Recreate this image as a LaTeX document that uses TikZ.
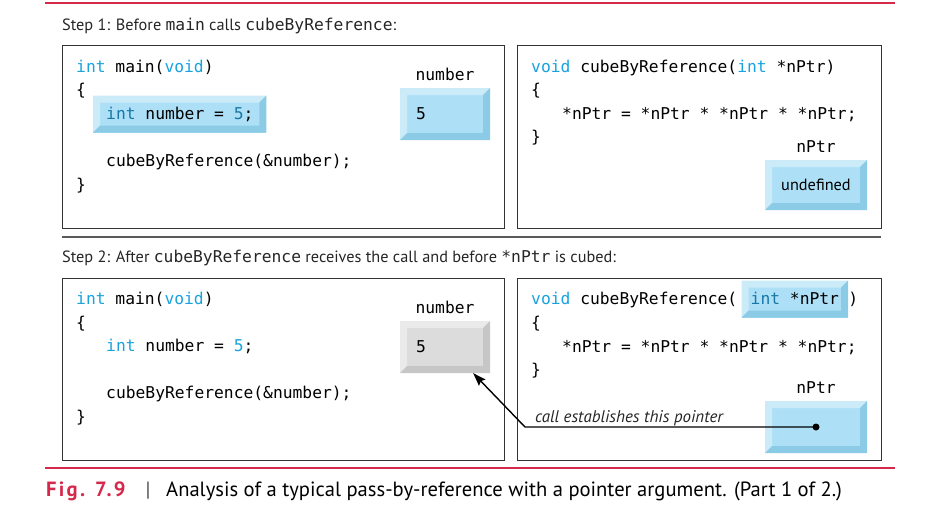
\documentclass[tikz,border=0pt]{standalone}
\usepackage{fontspec}
\setmainfont{PT Sans}
\newfontfamily\codefont{DejaVu Sans Mono}
\usetikzlibrary{positioning,arrows.meta}
\definecolor{figred}{HTML}{D5284A}
\definecolor{kwblue}{HTML}{18A2DE}
\definecolor{kwdark}{HTML}{1777A6}
\definecolor{bxface}{HTML}{ADE0F7}
\definecolor{bxlight}{HTML}{CBEBF9}
\definecolor{bxdark}{HTML}{8BCBE6}
\definecolor{gyface}{HTML}{DCDCDC}
\definecolor{gylight}{HTML}{EAEAEA}
\definecolor{gydark}{HTML}{C6C6C6}
\def\cf{\codefont\fontsize{16.3pt}{20pt}\selectfont}
\def\txtsize{\fontsize{16.3pt}{20pt}\selectfont}
\def\capsize{\fontsize{20.6pt}{24pt}\selectfont}
\def\kw#1{\textcolor{kwblue}{#1}}
\def\kwd#1{\textcolor{kwdark}{#1}}
\def\bv{7pt}
\tikzset{
  bevel/.style n args={3}{fill=#1, path picture={
      \fill[#2] (path picture bounding box.north west) -- (path picture bounding box.north east)
        -- ([xshift=-\bv,yshift=-\bv]path picture bounding box.north east)
        -- ([xshift=\bv,yshift=-\bv]path picture bounding box.north west)
        -- ([xshift=\bv,yshift=\bv]path picture bounding box.south west)
        -- (path picture bounding box.south west) -- cycle;
      \fill[#3] (path picture bounding box.south east) -- (path picture bounding box.north east)
        -- ([xshift=-\bv,yshift=-\bv]path picture bounding box.north east)
        -- ([xshift=-\bv,yshift=\bv]path picture bounding box.south east)
        -- ([xshift=\bv,yshift=\bv]path picture bounding box.south west)
        -- (path picture bounding box.south west) -- cycle;
    }},
  bluebox/.style={bevel={bxface}{bxlight}{bxdark}},
  greybox/.style={bevel={gyface}{gylight}{gydark}},
  frame/.style={draw=black!80, line width=1.3pt, inner sep=0pt, anchor=north west},
  code/.style={font=\cf, anchor=base west, inner sep=0pt},
  hlbox/.style={bluebox, font=\cf, anchor=base west, text height=13pt, text depth=3pt, inner ysep=10.5pt},
  value/.style={font=\cf, minimum width=90pt, minimum height=52pt, text width=58pt, inner xsep=16pt, align=left},
  varlbl/.style={font=\cf, inner sep=0pt},
  steptxt/.style={font=\txtsize, text=black!85, anchor=base west, inner sep=0pt},
  ptr/.style={line width=1.4pt, -{Stealth[length=13pt,width=9pt,inset=2pt]}},
  ptrdot/.style={circle, fill=black, inner sep=0pt, minimum size=7pt}
}

\begin{document}
\begin{tikzpicture}[x=1pt, y=-1pt]
  \useasboundingbox (0,0) rectangle (932,504);

  % rules
  \draw[figred, line width=2pt] (45,3) -- (895,3);
  \draw[black!65, line width=1.5pt] (62,237) -- (881,237);
  \draw[figred, line width=2.2pt] (45,468) -- (895,468);

  % step 1
  \node[steptxt] (stepA) at (62,30) {Step 1: Before {\codefont main} calls {\codefont cubeByReference}:};
  \node[frame, minimum width=442pt, minimum height=183pt] (frameA) at (62,45) {};
  \node[frame, minimum width=364pt, minimum height=183pt] (frameB) at (517,45) {};

  \node[code] (mainA) at (76,72) {\kw{int} main(\kw{void})};
  \node[code] (openA) at (76,95) {\{};
  \node[hlbox, inner xsep=13pt] (declA) at (93,119) {\kwd{int} number = \kwd{5};};
  \node[code] (callA) at (106,166) {cubeByReference(\&number);};
  \node[code] (closeA) at (76,190) {\}};

  \node[value, bluebox] (numA) at (445,114) {5};
  \node[varlbl, above=7pt of numA] (numlblA) {number};

  \node[code] (sigB) at (531,72) {\kw{void} cubeByReference(\kw{int} *nPtr)};
  \node[code] (openB) at (531,95) {\{};
  \node[code] (bodyB) at (562,119) {*nPtr = *nPtr * *nPtr * *nPtr;};
  \node[code] (closeB) at (531,142) {\}};

  \node[bluebox, font=\txtsize, minimum width=102pt, minimum height=50pt] (ptrB) at (816,185) {undefined};
  \node[varlbl, above=7pt of ptrB] (ptrlblB) {nPtr};

  % step 2
  \node[steptxt] (stepB) at (62,262) {Step 2: After {\codefont cubeByReference} receives the call and before {\codefont *nPtr} is cubed:};
  \node[frame, minimum width=442pt, minimum height=182pt] (frameC) at (62,278) {};
  \node[frame, minimum width=364pt, minimum height=182pt] (frameD) at (517,278) {};

  \node[code] (mainC) at (76,304) {\kw{int} main(\kw{void})};
  \node[code] (openC) at (76,328) {\{};
  \node[code] (declC) at (106,351) {\kw{int} number = \kw{5};};
  \node[code] (callC) at (106,398) {cubeByReference(\&number);};
  \node[code] (closeC) at (76,422) {\}};

  \node[value, greybox] (numC) at (445,347) {5};
  \node[varlbl, above=7pt of numC] (numlblC) {number};

  \node[code] (sigD) at (531,304) {\kw{void} cubeByReference(};
  \node[hlbox, inner xsep=9pt, base right=4pt of sigD] (argD) {\kwd{int} *nPtr};
  \node[code, base right=0pt of argD] (parD) {)};
  \node[code] (openD) at (531,328) {\{};
  \node[code] (bodyD) at (562,352) {*nPtr = *nPtr * *nPtr * *nPtr;};
  \node[code] (closeD) at (531,375) {\}};

  \node[bluebox, minimum width=102pt, minimum height=52pt] (ptrD) at (816,427) {};
  \node[varlbl, above=7pt of ptrD] (ptrlblD) {nPtr};
  \node[ptrdot] (dot) at (ptrD.center) {};
  \coordinate (bend) at (525,427);
  \draw[ptr] (dot.center) -- (bend) -- ([xshift=-17pt]numC.south east);
  \node[steptxt, font=\fontsize{16.9pt}{20pt}\selectfont\itshape] (calltxt) at (535,422) {call establishes this pointer};

  % caption
  \node[anchor=base west, inner sep=0pt, font=\capsize\bfseries\addfontfeature{LetterSpace=11}, text=figred] (figno) at (46,496) {Fig. 7.9};
  \node[anchor=base, inner sep=0pt, font=\capsize, text=black!70] (figsep) at (148,496) {|};
  \node[anchor=base west, inner sep=0pt, font=\capsize] (figtxt) at (166,496) {Analysis of a typical pass-by-reference with a pointer argument. (Part 1 of 2.)};
\end{tikzpicture}
\end{document}
